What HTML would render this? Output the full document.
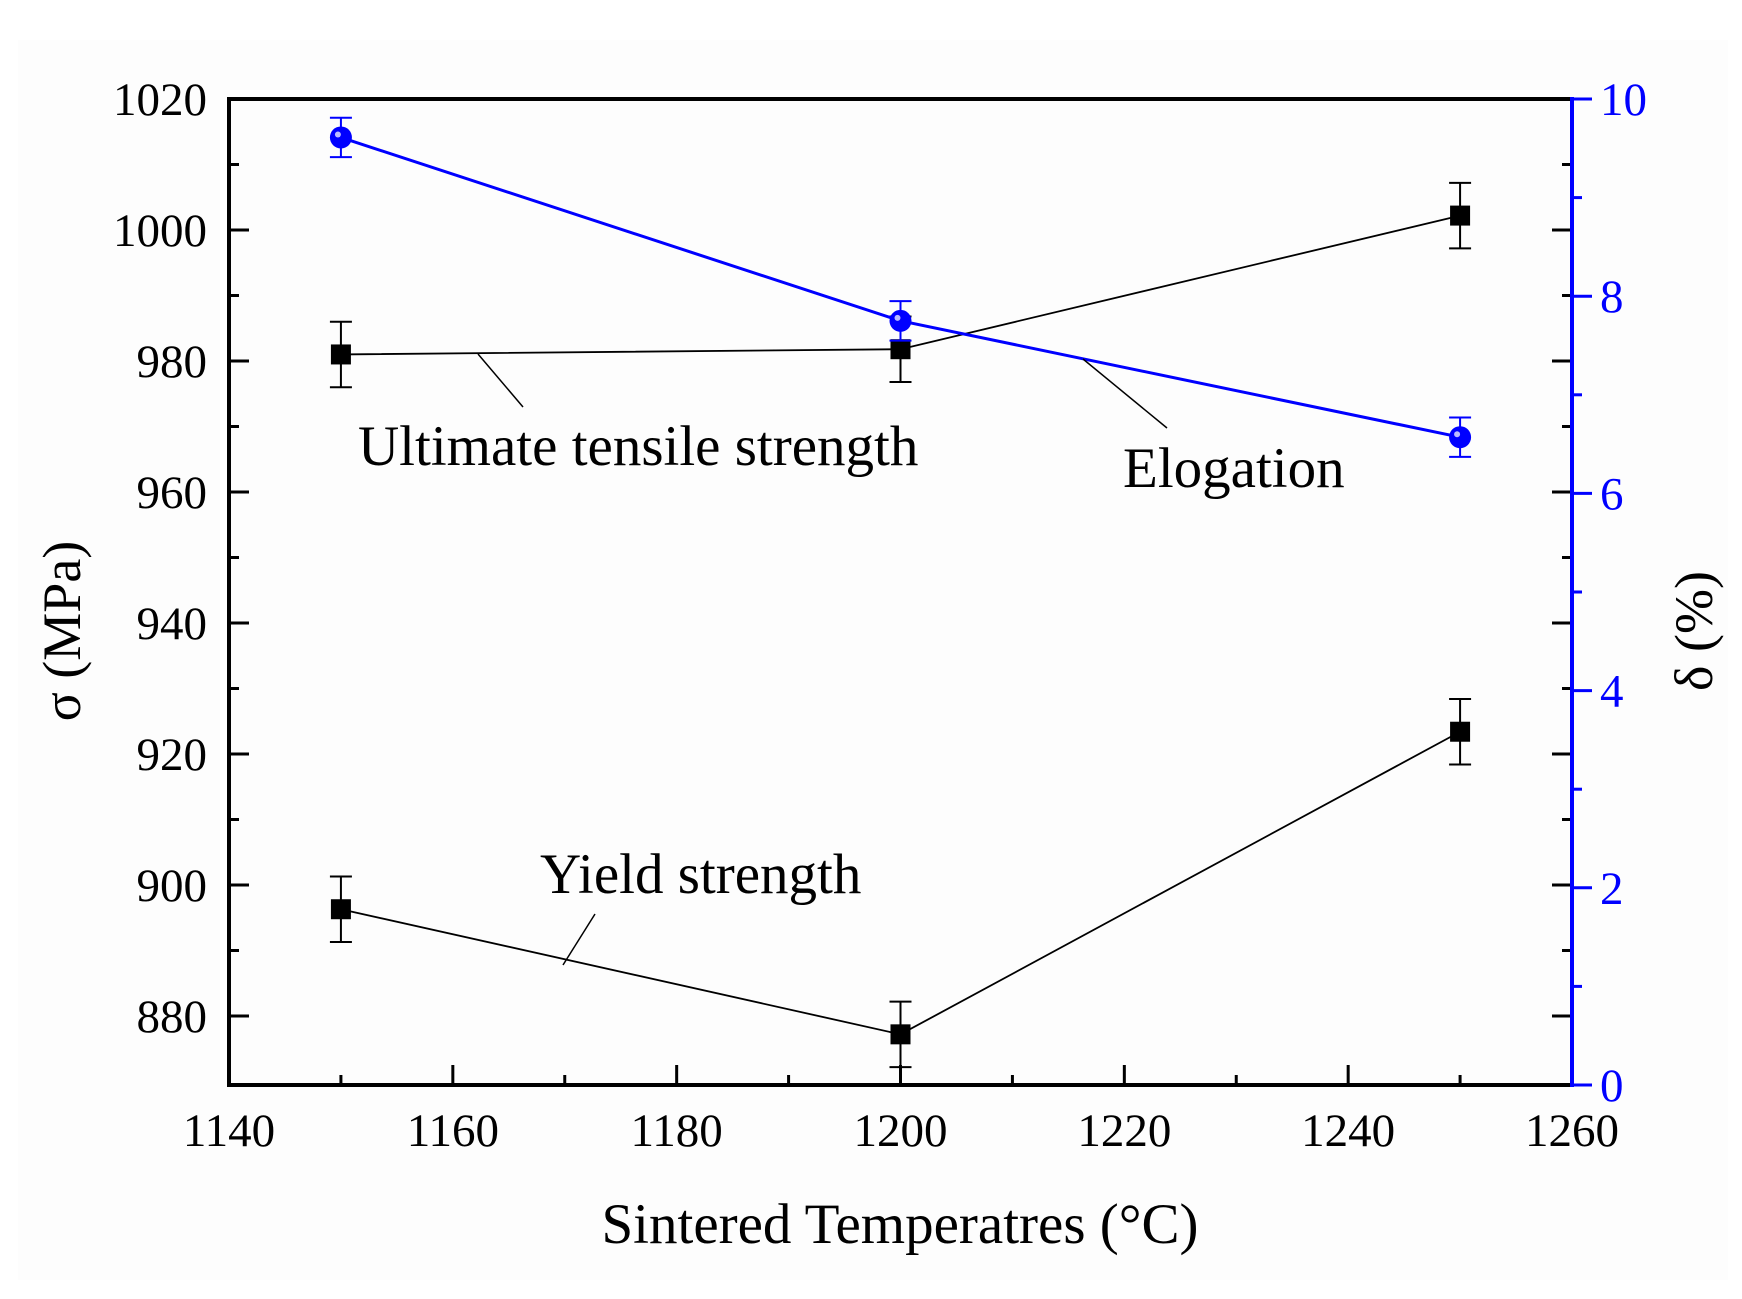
<!DOCTYPE html>
<html><head><meta charset="utf-8"><style>
html,body{margin:0;padding:0;background:#fff;}
svg{display:block;font-family:"Liberation Serif",serif;}
</style></head><body>
<svg id="chart" width="1742" height="1299" viewBox="0 0 1742 1299" xmlns="http://www.w3.org/2000/svg">
<rect x="18" y="40" width="1710" height="1240" fill="#fdfdfd"/>
<g id="grid"></g>
<g id="marks"></g>
<g id="axes"></g>
<text x="80" y="631" font-size="54" text-anchor="middle" transform="rotate(-90 80 631)">σ (MPa)</text>
<text x="1712" y="631" font-size="54" text-anchor="middle" transform="rotate(-90 1712 631)">δ (%)</text>
<text x="900" y="1243" font-size="57" text-anchor="middle">Sintered Temperatres (°C)</text>
<text x="358" y="465" font-size="57">Ultimate tensile strength</text>
<text x="1123" y="487" font-size="57">Elogation</text>
<text x="540" y="893" font-size="57">Yield strength</text>
<line x1="478" y1="354" x2="523" y2="407" stroke="#000" stroke-width="1.5"/>
<line x1="1083" y1="359" x2="1167" y2="428" stroke="#000" stroke-width="1.5"/>
<line x1="595" y1="914" x2="563" y2="965" stroke="#000" stroke-width="1.5"/>
</svg>
<script>
const temps = [1150, 1200, 1250];
const utsValues = [981, 981.8, 1002.2];
const utsErr = [5, 5, 5];
const yieldValues = [896.3, 877.2, 923.4];
const yieldErr = [5, 5, 5];
const elongValues = [9.61, 7.75, 6.57];
const elongErr = [0.2, 0.2, 0.2];
const xTicks = [1140, 1160, 1180, 1200, 1220, 1240, 1260];
const yTicks = [880, 900, 920, 940, 960, 980, 1000, 1020];
const y2Ticks = [0, 2, 4, 6, 8, 10];

const L=229, R=1572, T=99, B=1085;
const X = v => L + (v-1140)/120*(R-L);
const Y = v => 230 + (1000-v)*131/20;
const Y2 = v => B - v*(B-T)/10;
const NS="http://www.w3.org/2000/svg";
function mk(tag, attrs, parent){const e=document.createElementNS(NS,tag);for(const k in attrs)e.setAttribute(k,attrs[k]);document.getElementById(parent).appendChild(e);return e;}

let e;
e=mk('line',{x1:L,y1:T,x2:R,y2:T,stroke:'#000','stroke-width':4},'axes');


e=mk('line',{x1:L,y1:T-2,x2:L,y2:B+2,stroke:'#000','stroke-width':4},'axes');


e=mk('line',{x1:L-2,y1:B,x2:R,y2:B,stroke:'#000','stroke-width':4},'axes');



xTicks.forEach((t,i)=>{
  const x=X(t);
  if(i>0 && i<xTicks.length-1){
    e=mk('line',{x1:x,y1:B,x2:x,y2:B-20,stroke:'#000','stroke-width':3},'axes');
    
    
  }
  if(i<xTicks.length-1){
    e=mk('line',{x1:X(t+10),y1:B,x2:X(t+10),y2:B-10,stroke:'#000','stroke-width':3},'axes');
    
    
  }
  e=mk('text',{x:x,y:1146,'font-size':47,'text-anchor':'middle'},'axes');
  e.textContent=t;
  
  
});
yTicks.forEach((t,i)=>{
  const y=Y(t);
  if(i<yTicks.length-1){
    e=mk('line',{x1:L,y1:y,x2:L+20,y2:y,stroke:'#000','stroke-width':3},'axes');
    
    
    e=mk('line',{x1:R,y1:y,x2:R-20,y2:y,stroke:'#000','stroke-width':3},'axes');
    
    
  }
  const ym=Y(t-10);
  if(ym<B-5){
    e=mk('line',{x1:L,y1:ym,x2:L+10,y2:ym,stroke:'#000','stroke-width':3},'axes');
    
    
    e=mk('line',{x1:R,y1:ym,x2:R-10,y2:ym,stroke:'#000','stroke-width':3},'axes');
    
    
  }
  e=mk('text',{x:207,y:y+16,'font-size':47,'text-anchor':'end'},'axes');
  e.textContent=t;
  
  
});
e=mk('line',{x1:R,y1:T-2,x2:R,y2:B+2,stroke:'#0000ff','stroke-width':4},'axes');


y2Ticks.forEach((t,i)=>{
  const y=Y2(t);
  e=mk('line',{x1:R,y1:y,x2:R+20,y2:y,stroke:'#0000ff','stroke-width':3},'axes');
  
  
  if(i<y2Ticks.length-1){
    e=mk('line',{x1:R,y1:Y2(t+1),x2:R+10,y2:Y2(t+1),stroke:'#0000ff','stroke-width':3},'axes');
    
    
  }
  e=mk('text',{x:R+28,y:y+16,'font-size':47,fill:'#0000ff'},'axes');
  e.textContent=t;
  
  
});

function series(vals, errs, Yf, color, name, circle){
  const pts=temps.map((t,i)=>[X(t),Yf(vals[i])]);
  e=mk('polyline',{points:pts.map(p=>p.join(',')).join(' '),fill:'none',stroke:color,'stroke-width':color==='#000'?1.8:3},'marks');
  
  
  temps.forEach((t,i)=>{
    const x=X(t), y1=Yf(vals[i]+errs[i]), y2=Yf(vals[i]-errs[i]);
    e=mk('path',{d:`M${x},${y1}V${y2}M${x-11},${y1}H${x+11}M${x-11},${y2}H${x+11}`,stroke:color,'stroke-width':2,fill:'none'},'marks');
    
    
    if(circle){
      e=mk('circle',{cx:x,cy:Yf(vals[i]),r:11,fill:color},'marks');
      
      
      e=mk('circle',{cx:x-3,cy:Yf(vals[i])-3,r:3,fill:'#bbbbff'},'marks');
      
      
    } else {
      e=mk('rect',{x:x-10,y:Yf(vals[i])-10,width:20,height:20,fill:color},'marks');
      
      
    }
  });
}
series(utsValues, utsErr, Y, '#000', 'uts', false);
series(yieldValues, yieldErr, Y, '#000', 'yield', false);
series(elongValues, elongErr, Y2, '#0000ff', 'elongation', true);
</script>
</body></html>
